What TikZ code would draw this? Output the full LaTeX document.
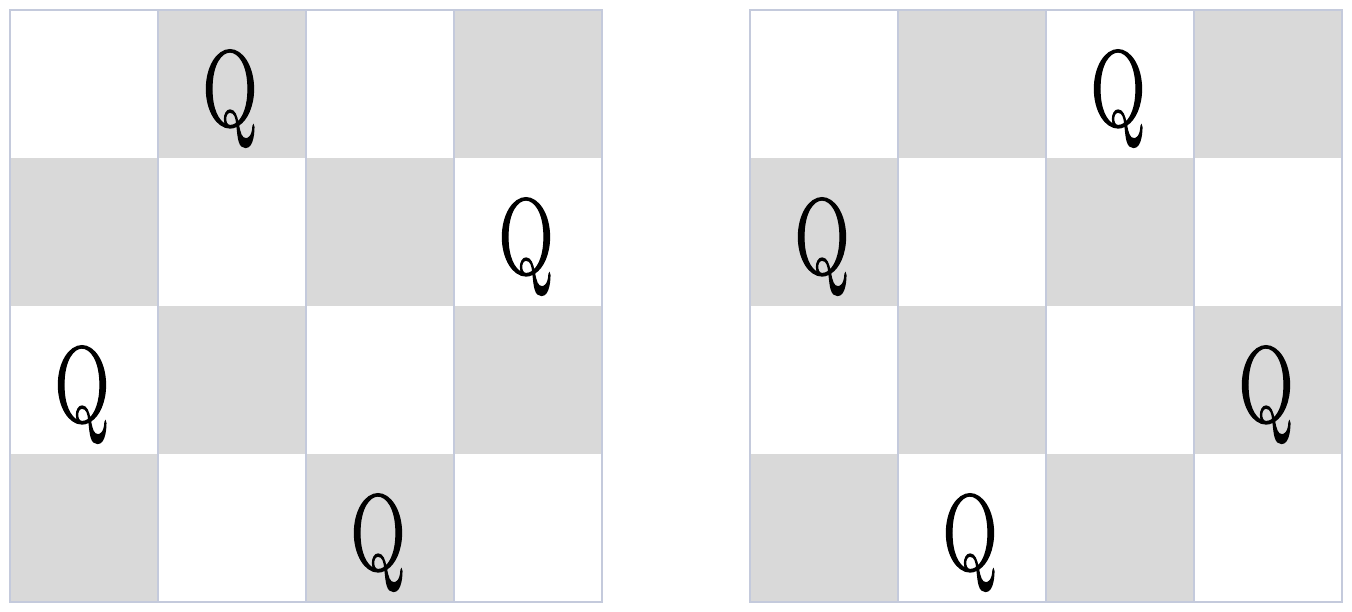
\documentclass[tikz,border=0pt]{standalone}
\usepackage{fontspec}
\newfontfamily\queenfont[FakeBold=1.6]{Latin Modern Roman}
\usepackage{tikz}

\definecolor{darksq}{HTML}{D9D9D9}
\definecolor{gridline}{HTML}{C4CADC}

\tikzset{
    queen/.style={font=\queenfont\fontsize{31}{36}\selectfont, inner sep=0pt, anchor=base, xscale=0.69},
    board/.style={draw=gridline, line width=0.8pt}
}

\begin{document}
\begin{tikzpicture}[x=1cm, y=-1cm]
        \useasboundingbox (0, 0) rectangle (13.52, 6.11);
        % dark squares of both boards
        \foreach \r in {0,...,3}
            \foreach \c in {0,...,3}
            {
                \pgfmathparse{int(mod(\r+\c,2))}
                \ifnum\pgfmathresult=1
                    \fill[darksq] (0.1+1.48*\c, 0.1+1.48*\r) rectangle ++(1.48, 1.48);
                    \fill[darksq] (7.5+1.48*\c, 0.1+1.48*\r) rectangle ++(1.48, 1.48);
                \fi
            }
        % left board
        \draw[board, step=1.48, shift={(0.1, 0.1)}] (0, 0) grid (5.92, 5.92);
        \draw[board] (0.1, 0.1) rectangle (6.02, 6.02);
        % right board
        \draw[board, step=1.48, shift={(7.5, 0.1)}] (0, 0) grid (5.92, 5.92);
        \draw[board] (7.5, 0.1) rectangle (13.42, 6.02);
        % queens
        \node[queen] (qa1) at (0.08+1.48*1.5, 0.1+1.48*0+1.16) {Q};
        \node[queen] (qa2) at (0.08+1.48*3.5, 0.1+1.48*1+1.16) {Q};
        \node[queen] (qa3) at (0.08+1.48*0.5, 0.1+1.48*2+1.16) {Q};
        \node[queen] (qa4) at (0.08+1.48*2.5, 0.1+1.48*3+1.16) {Q};
        \node[queen] (qb1) at (7.48+1.48*2.5, 0.1+1.48*0+1.16) {Q};
        \node[queen] (qb2) at (7.48+1.48*0.5, 0.1+1.48*1+1.16) {Q};
        \node[queen] (qb3) at (7.48+1.48*3.5, 0.1+1.48*2+1.16) {Q};
        \node[queen] (qb4) at (7.48+1.48*1.5, 0.1+1.48*3+1.16) {Q};
\end{tikzpicture}
\end{document}
